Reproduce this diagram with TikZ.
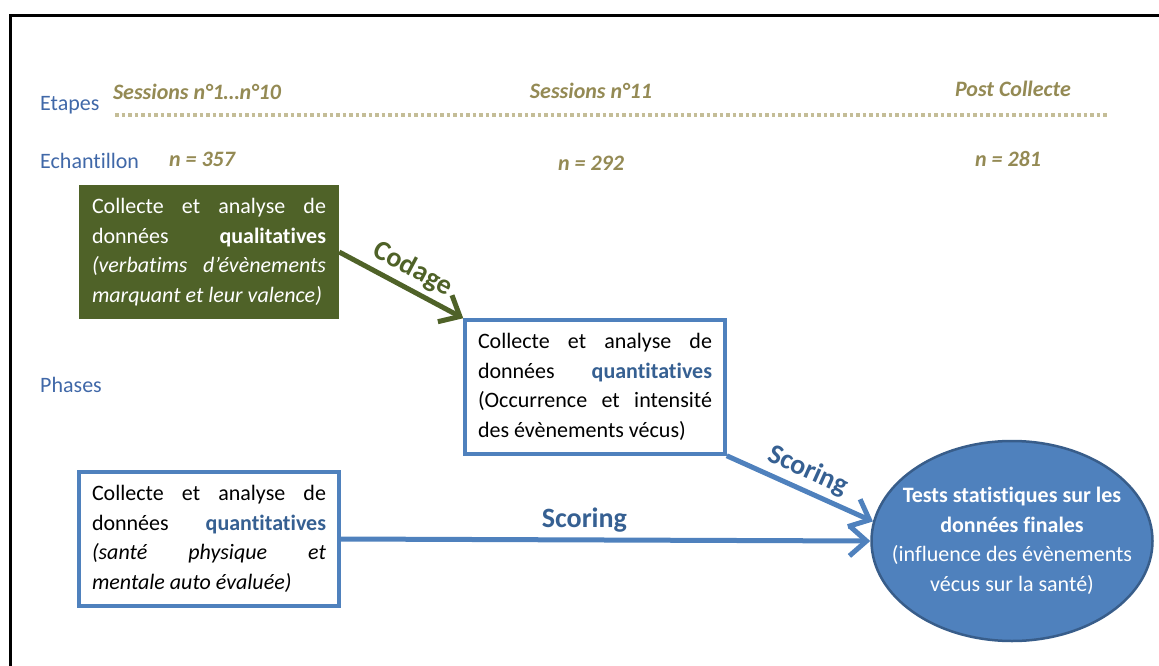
\documentclass[tikz,border=0pt]{standalone}
\usepackage{fontspec}
\setmainfont{Carlito}[Ligatures=NoCommon]
\usetikzlibrary{arrows.meta,shapes.geometric}
\definecolor{olivebox}{RGB}{79,98,40}
\definecolor{bluebox}{RGB}{79,129,189}
\definecolor{blueedge}{RGB}{56,93,138}
\definecolor{bluetext}{RGB}{54,96,146}
\definecolor{labelblue}{RGB}{64,104,168}
\definecolor{gold}{RGB}{148,138,84}
\definecolor{sand}{RGB}{196,189,151}
\tolerance=10000
\hbadness=10000

\begin{document}
\begin{tikzpicture}[x=1pt,y=-1pt,font=\fontsize{22}{29.5}\selectfont,
	phase/.style={rectangle,minimum width=260pt,minimum height=134pt,text width=234pt,align=justify,inner sep=0pt},
	qual/.style={phase,fill=olivebox,text=white},
	quant/.style={phase,draw=bluebox,line width=3.5pt,fill=white},
	final/.style={ellipse,fill=bluebox,draw=blueedge,line width=2.5pt,text=white,align=center,minimum width=281pt,minimum height=200pt,inner xsep=-22pt,inner ysep=0pt},
	row/.style={anchor=base west,text=labelblue,inner xsep=0pt},
	stage/.style={anchor=base,text=gold,font=\fontsize{22}{26}\selectfont\bfseries\itshape},
	flow/.style={line width=5pt,-{Straight Barb[length=17pt,width=30pt]}},
	tag/.style={sloped,above,inner sep=5pt,font=\fontsize{28}{30}\selectfont\bfseries}]
\useasboundingbox (0,0) rectangle (1159,666);
\draw[line width=3pt] (10.5,666) -- (10.5,15.5) -- (1159,15.5);

\node[row]	(etapes)	at (40,111)	{Etapes};
\node[row]	(echant)	at (40,168)	{Echantillon};
\node[row]	(phases)	at (40,392)	{Phases};
\node[stage]	(s_1)	at (197,100)	{Sessions n°1…n°10};
\node[stage]	(s_11)	at (591,99)	{Sessions n°11};
\node[stage]	(post)	at (1013,97)	{Post Collecte};
\node[stage]	(n_1)	at (202,166)	{n = 357};
\node[stage]	(n_11)	at (591,170)	{n = 292};
\node[stage]	(n_post)	at (1008,166)	{n = 281};
\coordinate (rule_a) at (115,115);
\coordinate (rule_b) at (1108,115);
\draw[sand,line width=4pt,dash pattern=on 3.5pt off 3pt] (rule_a) -- (rule_b);

\node[qual]	(qual)	at (209,252)	{Collecte et analyse de\linebreak données \textbf{qualitatives}\linebreak \textit{(verbatims d’évènements\linebreak marquant et leur valence)}};
\node[quant]	(occ)	at (595,387)	{Collecte et analyse de\linebreak données \textcolor{bluetext}{\textbf{quantitatives}}\linebreak (Occurrence et intensité\linebreak des évènements vécus)};
\node[quant]	(sante)	at (209,539)	{Collecte et analyse de\linebreak données \textcolor{bluetext}{\textbf{quantitatives}}\linebreak \textit{(santé physique et\linebreak mentale auto évaluée)}};
\node[final]	(tests)	at (1012,541)	{\textbf{Tests statistiques sur les}\\ \textbf{données finales}\\ (influence des évènements\\ vécus sur la santé)};

\path[flow,olivebox]	(qual.east)	edge	node[tag,pos=0.52]	{Codage}	(occ.north west);
\path[flow,bluebox]	(occ.south east)	edge	node[tag,pos=0.5,text=bluetext]	{Scoring}	(tests.172)
			(sante.east)	edge	node[tag,pos=0.46,text=bluetext]	{Scoring}	(tests.west);
\end{tikzpicture}
\end{document}
